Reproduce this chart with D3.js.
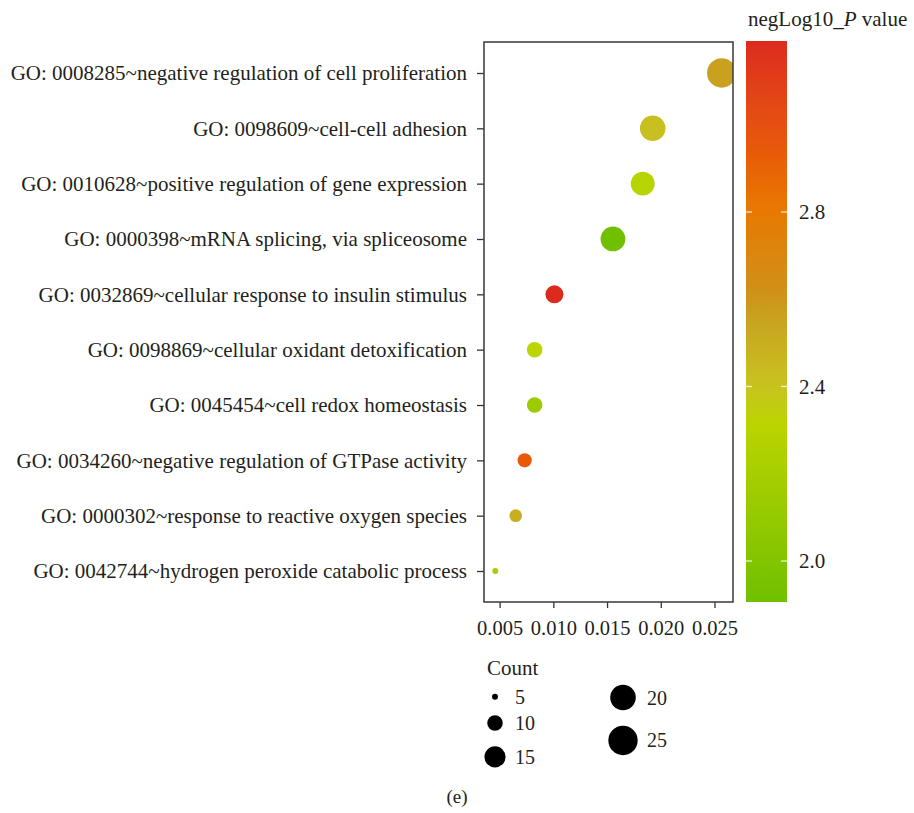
<!DOCTYPE html>
<html>
<head>
<meta charset="utf-8">
<script src="https://cdn.jsdelivr.net/npm/d3@7"></script>
<style>
  body { margin: 0; background: #fff; }
  text { font-family: "Liberation Serif", "DejaVu Serif", serif; fill: #231f20; }
</style>
</head>
<body>
<div id="chart"></div>
<script>
// Data
const terms = [
  'GO: 0008285~negative regulation of cell proliferation',
  'GO: 0098609~cell-cell adhesion',
  'GO: 0010628~positive regulation of gene expression',
  'GO: 0000398~mRNA splicing, via spliceosome',
  'GO: 0032869~cellular response to insulin stimulus',
  'GO: 0098869~cellular oxidant detoxification',
  'GO: 0045454~cell redox homeostasis',
  'GO: 0034260~negative regulation of GTPase activity',
  'GO: 0000302~response to reactive oxygen species',
  'GO: 0042744~hydrogen peroxide catabolic process'
]
const ratios = [0.02567, 0.01925, 0.01832, 0.01555, 0.0101, 0.00826, 0.00826, 0.00733, 0.0065, 0.0046]
const counts = [26, 20, 18, 19, 12, 10, 10, 9, 8, 5]
const negLogP = [2.56, 2.42, 2.29, 1.906, 3.192, 2.32, 2.13, 2.94, 2.50, 2.2]

const xTicks = [0.005, 0.010, 0.015, 0.020, 0.025]
const colorTicks = [2.0, 2.4, 2.8]
const sizeBreaks = [5, 10, 15, 20, 25]

// colour ramp
const rampValues = [1.906, 2.16, 2.32, 2.416, 2.55, 2.62, 2.809, 2.937, 3.192]
const rampColors = ['#70c000', '#a0cc00', '#bcd400', '#c8c020', '#c8a420', '#d09018', '#e87800', '#e85a08', '#dc2a1e']

const dataset = terms.map((t, i) => ({term: t, ratio: ratios[i], count: counts[i], p: negLogP[i]}))

// Dimensions
const width = 914, height = 813
const panel = {left: 484, right: 733, top: 42, bottom: 602}

const svg = d3.select('#chart').append('svg')
  .attr('width', width)
  .attr('height', height)

// Scales
const [xmin, xmax] = d3.extent(ratios)
const xpad = (xmax - xmin) * 0.05
const xScale = d3.scaleLinear()
  .domain([xmin - xpad, xmax + xpad])
  .range([panel.left, panel.right])

const yScale = d3.scalePoint()
  .domain(terms)
  .range([panel.top, panel.bottom])
  .padding(0.56)

const areaScale = d3.scaleLinear().domain([4.13, 25]).range([0, 215]).clamp(true)
const rScale = c => Math.sqrt(areaScale(c))

const colorScale = d3.scaleLinear()
  .domain(rampValues)
  .range(rampColors)
  .interpolate(d3.interpolateLab)

// Points
svg.append('clipPath').attr('id', 'clip')
  .append('rect')
  .attr('x', panel.left).attr('y', panel.top)
  .attr('width', panel.right - panel.left).attr('height', panel.bottom - panel.top)

svg.append('g').attr('clip-path', 'url(#clip)')
  .selectAll('circle')
  .data(dataset)
  .join('circle')
  .attr('cx', d => xScale(d.ratio))
  .attr('cy', d => yScale(d.term))
  .attr('r', d => rScale(d.count))
  .attr('fill', d => colorScale(d.p))

// Axes
const xAxis = d3.axisBottom(xScale)
  .tickValues(xTicks)
  .tickFormat(d3.format('.3f'))
  .tickSize(6)
  .tickSizeOuter(0)
const xAxisGroup = svg.append('g')
  .attr('transform', `translate(0, ${panel.bottom})`)
  .call(xAxis)
xAxisGroup.select('.domain').remove()
xAxisGroup.selectAll('.tick line').attr('stroke', '#333').attr('stroke-width', 1.3)
xAxisGroup.selectAll('.tick text')
  .attr('dy', 0)
  .attr('y', 33)
  .style('font-size', '20.5px')
  .style('font-family', '"Liberation Serif", serif')
  .attr('fill', '#231f20')

const yAxis = d3.axisLeft(yScale).tickSize(7).tickPadding(10).tickSizeOuter(0)
const yAxisGroup = svg.append('g')
  .attr('transform', `translate(${panel.left}, 0)`)
  .call(yAxis)
yAxisGroup.select('.domain').remove()
yAxisGroup.selectAll('.tick line').attr('stroke', '#333').attr('stroke-width', 1.3)
yAxisGroup.selectAll('.tick text')
  .style('font-size', '21px')
  .style('font-family', '"Liberation Serif", serif')
  .attr('fill', '#231f20')

// Panel border
svg.append('rect')
  .attr('x', panel.left).attr('y', panel.top)
  .attr('width', panel.right - panel.left).attr('height', panel.bottom - panel.top)
  .attr('fill', 'none')
  .attr('stroke', '#444')
  .attr('stroke-width', 1.6)

// Colour bar
const bar = {x: 746, w: 41}
const barScale = d3.scaleLinear().domain(d3.extent(negLogP)).range([panel.bottom, panel.top - 1])
const grad = svg.append('defs').append('linearGradient')
  .attr('id', 'grad').attr('x1', 0).attr('x2', 0).attr('y1', 1).attr('y2', 0)
grad.selectAll('stop')
  .data(d3.range(0, 1.0001, 0.02))
  .join('stop')
  .attr('offset', t => t)
  .attr('stop-color', t => colorScale(barScale.domain()[0] + t * (barScale.domain()[1] - barScale.domain()[0])))

svg.append('rect')
  .attr('x', bar.x).attr('y', barScale.range()[1])
  .attr('width', bar.w).attr('height', barScale.range()[0] - barScale.range()[1])
  .attr('fill', 'url(#grad)')

const cticks = svg.append('g').selectAll('g').data(colorTicks).join('g')
  .attr('transform', d => `translate(0, ${barScale(d)})`)
cticks.append('line').attr('x1', bar.x).attr('x2', bar.x + 6)
  .attr('stroke', '#fff').attr('stroke-opacity', 0.8).attr('stroke-width', 1.3)
cticks.append('line').attr('x1', bar.x + bar.w - 6).attr('x2', bar.x + bar.w)
  .attr('stroke', '#fff').attr('stroke-opacity', 0.8).attr('stroke-width', 1.3)
cticks.append('text')
  .attr('x', 799).attr('dy', '0.35em')
  .style('font-size', '21px')
  .text(d => d3.format('.1f')(d))

const title = svg.append('text')
  .attr('x', 748).attr('y', 26)
  .style('font-size', '21px')
title.append('tspan').text('negLog10_')
title.append('tspan').style('font-style', 'italic').text('P')
title.append('tspan').text(' value')

// Size legend
const legend = svg.append('g')
legend.append('text')
  .attr('x', 487).attr('y', 675)
  .style('font-size', '21px')
  .text('Count')

const cols = [{x: 495, top: 686, keys: sizeBreaks.slice(0, 3)}, {x: 623, top: 677, keys: sizeBreaks.slice(3)}]
cols.forEach(col => {
  let y = col.top
  col.keys.forEach(k => {
    const h = 2 * rScale(k) + 15.5
    const cy = y + h / 2
    legend.append('circle')
      .attr('cx', col.x).attr('cy', cy)
      .attr('r', rScale(k))
      .attr('fill', '#000')
    legend.append('text')
      .attr('x', col.x + 20 + (col.x > 600 ? 4 : 0)).attr('y', cy).attr('dy', '0.35em')
      .style('font-size', '20px')
      .text(k)
    y += h
  })
})

svg.append('text')
  .attr('x', 457).attr('y', 803)
  .attr('text-anchor', 'middle')
  .style('font-size', '19px')
  .text('(e)')
</script>
</body>
</html>
